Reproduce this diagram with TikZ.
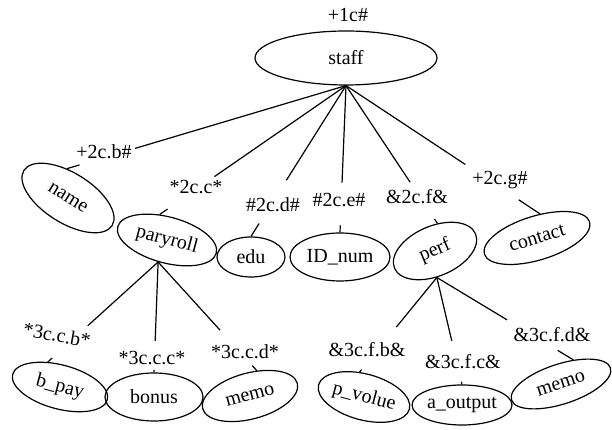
\documentclass[tikz,border=0pt]{standalone}
\usepackage{fontspec}
\setmainfont{Liberation Serif}
\newfontfamily\treefont{Liberation Serif}
\usetikzlibrary{shapes.geometric}
\tikzset{
  txt/.style={font=\treefont\fontsize{20}{23}\selectfont},
  leaf/.style={txt, draw, ellipse, line width=1.2pt, inner sep=0pt},
  tag/.style={txt, inner sep=1pt},
  % a connector broken once where its tag sits: first part, gap, rest
  link/.style n args={2}{line width=1.2pt, dash pattern=on #1pt off #2pt on 600pt},
}
\begin{document}
\begin{tikzpicture}[x=1pt,y=1pt]
\useasboundingbox (0,0) rectangle (612,430);

% root
\node[leaf, minimum width=182pt, minimum height=54pt] (staff) at (346,372) {staff};
\node[txt] (rootlbl) at (348,415) {+1c\#};

% second level
\node[leaf, minimum width=104pt, minimum height=50pt, rotate=-32] (name) at (68,232) {name};
\node[leaf, minimum width=102pt, minimum height=46pt, rotate=-15] (paryroll) at (167,190) {paryroll};
\node[leaf, minimum width=68pt, minimum height=40pt] (edu) at (251,173) {edu};
\node[leaf, minimum width=100pt, minimum height=48pt] (idnum) at (340,173) {ID\_num};
\node[leaf, minimum width=88pt, minimum height=50pt, rotate=23] (perf) at (435,179) {perf};
\node[leaf, minimum width=110pt, minimum height=44pt, rotate=17] (contact) at (537,192) {contact};

% third level
\node[leaf, minimum width=98pt, minimum height=44pt, rotate=-15] (bpay) at (60,43) {b\_pay};
\node[leaf, minimum width=98pt, minimum height=48pt] (bonus) at (154,33) {bonus};
\node[leaf, minimum width=98pt, minimum height=46pt, rotate=15] (memoa) at (250,34) {memo};
\node[leaf, minimum width=94pt, minimum height=46pt, rotate=-15] (pvolue) at (364,33) {p\_volue};
\node[leaf, minimum width=100pt, minimum height=40pt] (aoutput) at (462,25) {a\_output};
\node[leaf, minimum width=104pt, minimum height=40pt, rotate=18] (memob) at (561,46) {memo};

% connectors, each interrupted around its tag
\draw[link={220}{58}] (staff.south) -- (name.124);
\draw[link={160}{57}] (staff.south) -- (paryroll.121);
\draw[link={112}{51}] (staff.south) -- (edu.north);
\draw[link={97}{43}]  (staff.south) -- (idnum.north);
\draw[link={116}{44}] (staff.south) -- (perf.62);
\draw[link={143}{64}] (staff.south) -- (contact.66);
\draw[link={95}{48}]  (paryroll.-97) -- (bpay.131);
\draw[link={79}{29}]  (paryroll.-97) -- (bonus.north);
\draw[link={92}{48}]  (paryroll.-97) -- (memoa.60);
\draw[link={64}{55}]  (perf.-109) -- (pvolue.115);
\draw[link={65}{42}]  (perf.-109) -- (aoutput.north);
\draw[link={82}{59}]  (perf.-109) -- (memob.45);

% connector tags
\node[tag] (tb) at (104,278) {+2c.b\#};
\node[tag] (tc) at (196,243) {*2c.c*};
\node[tag] (td) at (273,225) {\#2c.d\#};
\node[tag] (te) at (339,230) {\#2c.e\#};
\node[tag] (tf) at (417,233) {\&2c.f\&};
\node[tag] (tg) at (500,250) {+2c.g\#};
\node[tag, rotate=-10] (tcb) at (57,95) {*3c.c.b*};
\node[tag] (tcc) at (152,72) {*3c.c.c*};
\node[tag] (tcd) at (245,78) {*3c.c.d*};
\node[tag] (tfb) at (367,80) {\&3c.f.b\&};
\node[tag] (tfc) at (463,68) {\&3c.f.c\&};
\node[tag] (tfd) at (552,95) {\&3c.f.d\&};
\end{tikzpicture}
\end{document}
